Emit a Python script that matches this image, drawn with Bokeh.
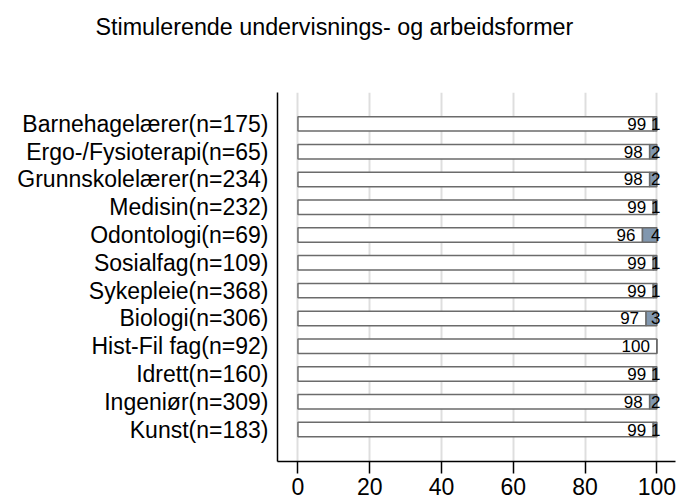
from bokeh.plotting import figure
from bokeh.models import ColumnDataSource, FixedTicker, Range1d, Title
from bokeh.core.properties import value
from bokeh.embed import file_html
from bokeh.resources import INLINE

title_text = "Stimulerende undervisnings- og arbeidsformer"
categories = [
    "Barnehagelærer(n=175)",
    "Ergo-/Fysioterapi(n=65)",
    "Grunnskolelærer(n=234)",
    "Medisin(n=232)",
    "Odontologi(n=69)",
    "Sosialfag(n=109)",
    "Sykepleie(n=368)",
    "Biologi(n=306)",
    "Hist-Fil fag(n=92)",
    "Idrett(n=160)",
    "Ingeniør(n=309)",
    "Kunst(n=183)",
]
pct_first = [99, 98, 98, 99, 96, 99, 99, 97, 100, 99, 98, 99]
pct_second = [1, 2, 2, 1, 4, 1, 1, 3, 0, 1, 2, 1]
x_ticks = [0, 20, 40, 60, 80, 100]

FONT = "Liberation Sans"
n = len(categories)
ypos = [n - i for i in range(n)]
ends = [a + b for a, b in zip(pct_first, pct_second)]

src = ColumnDataSource(dict(
    y=ypos,
    first=pct_first,
    second=pct_second,
    end=ends,
    zero=[0] * n,
    first_lbl=[str(v) for v in pct_first],
))
sec_idx = [i for i in range(n) if pct_second[i] > 0]
src2 = ColumnDataSource(dict(
    y=[ypos[i] for i in sec_idx],
    end=[ends[i] for i in sec_idx],
    lbl=[str(pct_second[i]) for i in sec_idx],
))

p = figure(
    width=678, height=504,
    x_range=Range1d(-5.7, 105.2),
    y_range=Range1d(-0.15, 13.13),
    output_backend="svg", toolbar_location=None,
    min_border_left=277, min_border_right=3,
    min_border_top=92, min_border_bottom=43,
)
p.outline_line_color = None
p.background_fill_color = "white"

p.title = Title(text=title_text, align="left", offset=-182,
                text_font=FONT, text_font_size="23.3px", text_font_style="normal",
                text_color="black", standoff=19, vertical_align="bottom")
# spacer between title and plot area
p.add_layout(Title(text=" ", standoff=15, text_font_size="23px",
                   text_font=FONT), "above")

p.hbar(y="y", left="zero", right="first", height=0.52, source=src,
       fill_color="white", line_color="#6b6b6b", line_width=1.5)
p.hbar(y="y", left="first", right="end", height=0.52, source=src,
       fill_color="#8197af", line_color="#6b6b6b", line_width=1.5)

p.text(x="first", y="y", text="first_lbl", source=src,
       text_align="right", text_baseline="middle", x_offset=-7,
       text_font=value(FONT), text_font_size="17px", text_color="black")
p.text(x="end", y="y", text="lbl", source=src2,
       text_align="center", text_baseline="middle", x_offset=-1,
       text_font=value(FONT), text_font_size="17px", text_color="black")

# x axis
p.xaxis.ticker = FixedTicker(ticks=x_ticks)
p.xaxis.axis_line_color = "black"
p.xaxis.axis_line_width = 1.5
p.xaxis.major_tick_line_color = "black"
p.xaxis.major_tick_line_width = 1.5
p.xaxis.major_tick_out = 12
p.xaxis.major_tick_in = 0
p.xaxis.minor_tick_line_color = None
p.xaxis.major_label_standoff = 4
p.xaxis.major_label_text_font = FONT
p.xaxis.major_label_text_font_size = "23px"
p.xaxis.major_label_text_color = "black"

# y axis
p.yaxis.ticker = FixedTicker(ticks=ypos)
p.yaxis.major_label_overrides = {y: c for y, c in zip(ypos, categories)}
p.yaxis.axis_line_color = "black"
p.yaxis.axis_line_width = 1.5
p.yaxis.major_tick_line_color = None
p.yaxis.minor_tick_line_color = None
p.yaxis.major_tick_out = 0
p.yaxis.major_tick_in = 0
p.yaxis.major_label_standoff = 9
p.yaxis.major_label_text_font = FONT
p.yaxis.major_label_text_font_size = "23px"
p.yaxis.major_label_text_color = "black"

p.xgrid.ticker = FixedTicker(ticks=x_ticks)
p.xgrid.grid_line_color = "#dedede"
p.xgrid.grid_line_width = 2
p.ygrid.grid_line_color = None

open("out.html", "w").write(file_html(p, INLINE))
